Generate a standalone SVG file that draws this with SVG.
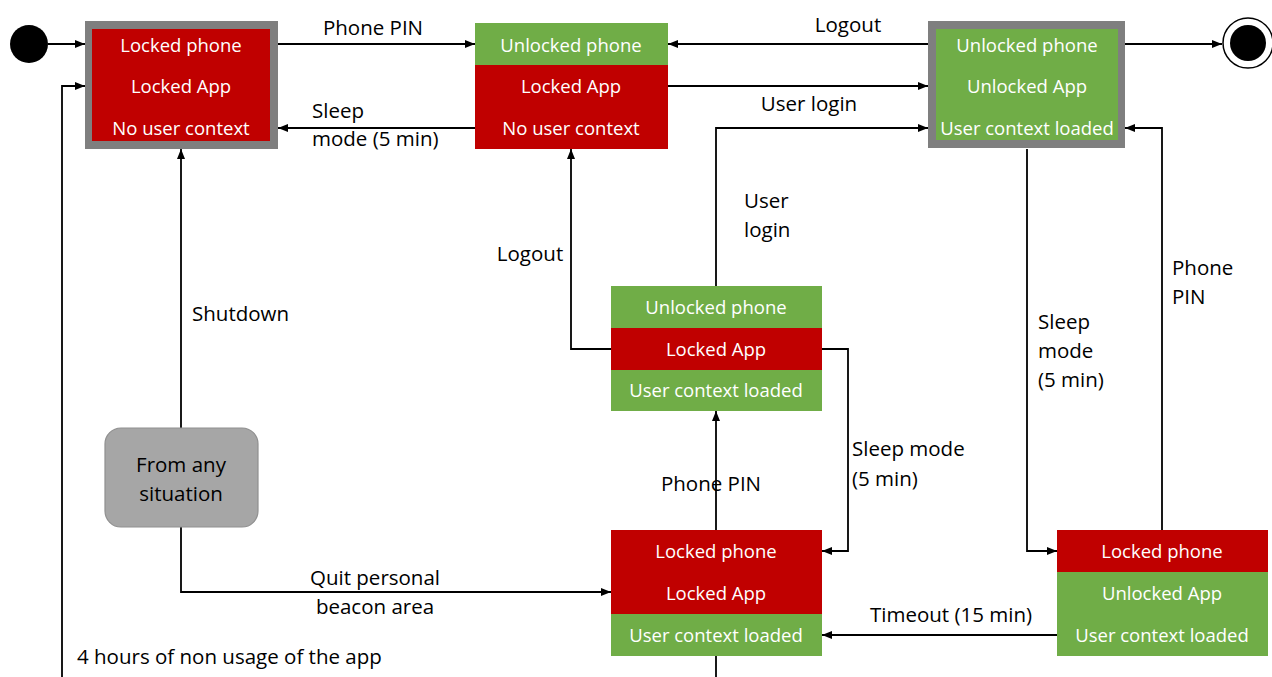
<svg xmlns="http://www.w3.org/2000/svg" width="1272" height="677" viewBox="0 0 1272 677">
  <style>
    .bg { fill: #ffffff; }
    .frame { fill: #7f7f7f; }
    .red { fill: #c00000; }
    .green { fill: #70ad47; }
    .st { font-family: "Open Sans", "Liberation Sans", sans-serif; font-size: 18.5px; fill: #ffffff; text-anchor: middle; }
    .lbl { font-family: "Open Sans", "Liberation Sans", sans-serif; font-size: 20.5px; fill: #000000; }
    .mid { text-anchor: middle; }
    .edge { fill: none; stroke: #000000; stroke-width: 1.8; marker-end: url(#arrow); }
    .plain { fill: none; stroke: #000000; stroke-width: 1.8; }
  </style>
  <defs>
    <marker id="arrow" markerUnits="userSpaceOnUse" markerWidth="10" markerHeight="8" refX="10" refY="4" orient="auto">
      <path d="M0,0 L10,4 L0,8 z" fill="#000000"/>
    </marker>
  </defs>
  <rect class="bg" x="0" y="0" width="1272" height="677"/>

  <!-- connectors -->
  <g id="connectors">
    <path class="edge" d="M48,44 H85"/>
    <path class="edge" d="M278,44 H475"/>
    <path class="edge" d="M475,128 H278"/>
    <path class="edge" d="M928,44 H668"/>
    <path class="edge" d="M668,86 H928"/>
    <path class="edge" d="M1125,44 H1222"/>
    <path class="edge" d="M716,286 V128 H928"/>
    <path class="edge" d="M611,349 H571 V149"/>
    <path class="edge" d="M822,349 H848 V551 H822"/>
    <path class="edge" d="M716,530 V411"/>
    <path class="edge" d="M181,428 V149"/>
    <path class="edge" d="M181,527 V592 H611"/>
    <path class="edge" d="M62,677 V86 H85"/>
    <path class="plain" d="M716,656 V677"/>
    <path class="edge" d="M1027,149 V551 H1057"/>
    <path class="edge" d="M1162,530 V128 H1125"/>
    <path class="edge" d="M1057,635 H822"/>

    <text class="lbl mid" x="373" y="35">Phone PIN</text>
    <text class="lbl" x="312" y="118">Sleep</text>
    <text class="lbl" x="312" y="146">mode (5 min)</text>
    <text class="lbl mid" x="848" y="32">Logout</text>
    <text class="lbl mid" x="809" y="111">User login</text>
    <text class="lbl" x="744" y="208">User</text>
    <text class="lbl" x="744" y="237">login</text>
    <text class="lbl mid" x="530" y="261">Logout</text>
    <text class="lbl" x="192" y="321">Shutdown</text>
    <text class="lbl" x="1172" y="275">Phone</text>
    <text class="lbl" x="1172" y="304">PIN</text>
    <text class="lbl" x="1038" y="329">Sleep</text>
    <text class="lbl" x="1038" y="358">mode</text>
    <text class="lbl" x="1038" y="387">(5 min)</text>
    <text class="lbl" x="852" y="456">Sleep mode</text>
    <text class="lbl" x="852" y="486">(5 min)</text>
    <text class="lbl mid" x="711" y="491">Phone PIN</text>
    <text class="lbl mid" x="375" y="585">Quit personal</text>
    <text class="lbl mid" x="375" y="614">beacon area</text>
    <text class="lbl" x="77" y="664">4 hours of non usage of the app</text>
    <text class="lbl mid" x="951" y="622">Timeout (15 min)</text>
  </g>

  <!-- initial pseudo-state -->
  <g id="initial">
    <circle cx="29" cy="44" r="19" fill="#000000"/>
  </g>

  <!-- final pseudo-state -->
  <g id="final">
    <circle cx="1248" cy="43" r="25" fill="#ffffff" stroke="#000000" stroke-width="1.5"/>
    <circle cx="1248" cy="43" r="18" fill="#000000"/>
  </g>

  <!-- fully locked state -->
  <g id="locked">
    <rect class="frame" x="85" y="21" width="193" height="128"/>
    <rect class="red" x="92" y="29" width="178" height="112"/>
    <text class="st" x="181" y="52">Locked phone</text>
    <text class="st" x="181" y="93">Locked App</text>
    <text class="st" x="181" y="135">No user context</text>
  </g>

  <!-- phone unlocked, no user -->
  <g id="phone-unlocked">
    <rect class="green" x="475" y="23" width="193" height="42"/>
    <rect class="red" x="475" y="65" width="193" height="84"/>
    <text class="st" x="571" y="52">Unlocked phone</text>
    <text class="st" x="571" y="93">Locked App</text>
    <text class="st" x="571" y="135">No user context</text>
  </g>

  <!-- fully unlocked state -->
  <g id="unlocked">
    <rect class="frame" x="928" y="21" width="197" height="127"/>
    <rect class="green" x="936" y="29" width="182" height="111"/>
    <text class="st" x="1027" y="52">Unlocked phone</text>
    <text class="st" x="1027" y="93">Unlocked App</text>
    <text class="st" x="1027" y="135">User context loaded</text>
  </g>

  <!-- app locked, context kept -->
  <g id="app-locked">
    <rect class="green" x="611" y="286" width="211" height="42"/>
    <rect class="red" x="611" y="328" width="211" height="42"/>
    <rect class="green" x="611" y="370" width="211" height="41"/>
    <text class="st" x="716" y="314">Unlocked phone</text>
    <text class="st" x="716" y="356">Locked App</text>
    <text class="st" x="716" y="397">User context loaded</text>
  </g>

  <!-- phone and app locked, context kept -->
  <g id="all-locked-context">
    <rect class="red" x="611" y="530" width="211" height="84"/>
    <rect class="green" x="611" y="614" width="211" height="42"/>
    <text class="st" x="716" y="558">Locked phone</text>
    <text class="st" x="716" y="600">Locked App</text>
    <text class="st" x="716" y="642">User context loaded</text>
  </g>

  <!-- phone locked, app unlocked -->
  <g id="phone-locked">
    <rect class="red" x="1057" y="530" width="211" height="42"/>
    <rect class="green" x="1057" y="572" width="211" height="84"/>
    <text class="st" x="1162" y="558">Locked phone</text>
    <text class="st" x="1162" y="600">Unlocked App</text>
    <text class="st" x="1162" y="642">User context loaded</text>
  </g>

  <!-- global trigger source -->
  <g id="any-situation">
    <rect x="105" y="428" width="153" height="99" rx="16" ry="16" fill="#a6a6a6" stroke="#8f8f8f" stroke-width="1.2"/>
    <text class="lbl mid" x="181" y="472">From any</text>
    <text class="lbl mid" x="181" y="501">situation</text>
  </g>
</svg>
